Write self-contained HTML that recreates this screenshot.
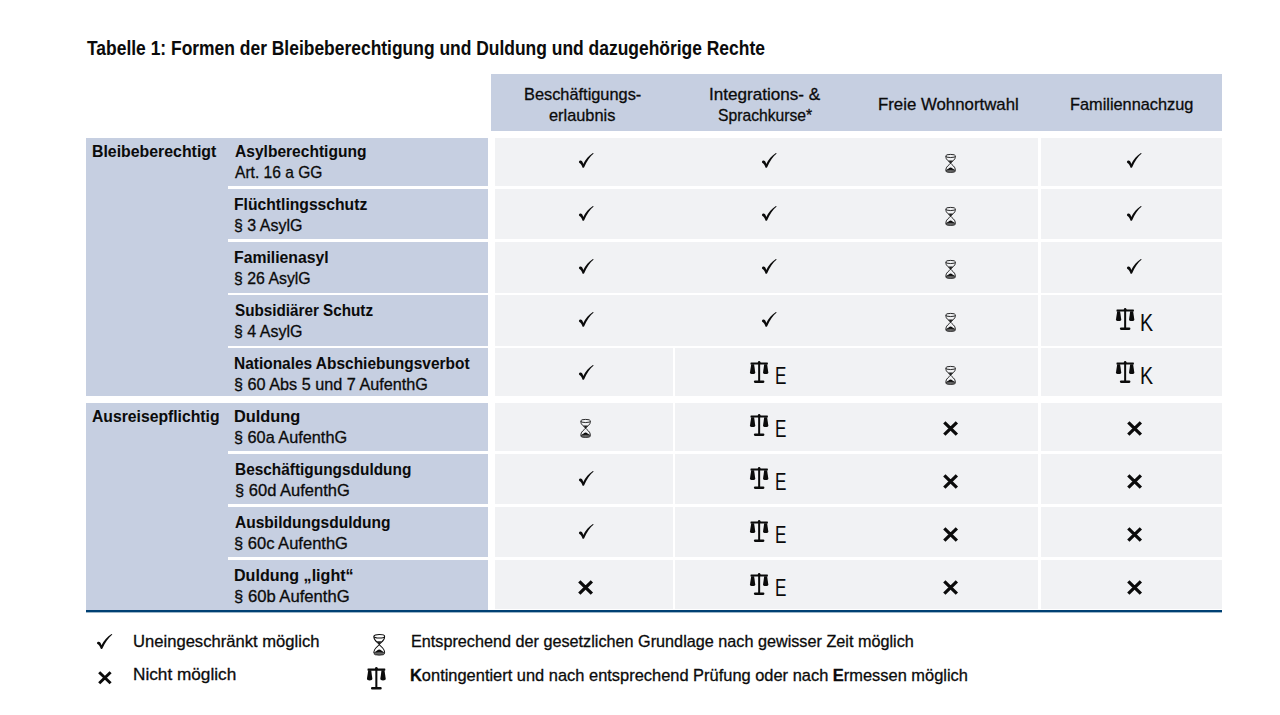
<!DOCTYPE html>
<html><head><meta charset="utf-8"><title>Tabelle 1</title>
<style>
html,body{margin:0;padding:0;background:#fff;}
body{width:1280px;height:715px;position:relative;overflow:hidden;font-family:"Liberation Sans",sans-serif;color:#0b0b0b;}
.r{position:absolute;}
.t{position:absolute;white-space:nowrap;-webkit-text-stroke:0.3px #0b0b0b;}
.b{-webkit-text-stroke:0.05px #0b0b0b;}
.c{text-align:center;}
.i{position:absolute;overflow:visible;}
</style></head><body>
<div class="t b" style="left:86.83px;top:37.64px;font-size:20.5px;line-height:20.5px;font-weight:bold;transform:scaleX(0.8507);transform-origin:0 0;">Tabelle 1: Formen der Bleibeberechtigung und Duldung und dazugehörige Rechte</div>
<div class="r" style="left:491.00px;top:73.70px;width:731.00px;height:57.00px;background:#c6cfe1"></div>
<div class="t" style="left:523.69px;top:85.61px;font-size:17.0px;line-height:17.0px;transform:scaleX(0.962);transform-origin:0 0;">Beschäftigungs-</div>
<div class="t" style="left:549.35px;top:106.61px;font-size:17.0px;line-height:17.0px;transform:scaleX(0.9622);transform-origin:0 0;">erlaubnis</div>
<div class="t" style="left:709.36px;top:85.61px;font-size:17.0px;line-height:17.0px;transform:scaleX(1.0055);transform-origin:0 0;">Integrations- &amp;</div>
<div class="t" style="left:718.32px;top:106.61px;font-size:17.0px;line-height:17.0px;transform:scaleX(0.9225);transform-origin:0 0;">Sprachkurse*</div>
<div class="t" style="left:878.46px;top:96.21px;font-size:17.0px;line-height:17.0px;transform:scaleX(0.9885);transform-origin:0 0;">Freie Wohnortwahl</div>
<div class="t" style="left:1069.59px;top:96.11px;font-size:17.0px;line-height:17.0px;transform:scaleX(0.9598);transform-origin:0 0;">Familiennachzug</div>
<div class="r" style="left:86.10px;top:137.60px;width:142.30px;height:258.20px;background:#c6cfe1"></div>
<div class="r" style="left:86.10px;top:402.70px;width:142.30px;height:206.90px;background:#c6cfe1"></div>
<div class="r" style="left:228.40px;top:137.60px;width:259.60px;height:48.60px;background:#c6cfe1"></div>
<div class="r" style="left:494.80px;top:137.60px;width:543.40px;height:48.60px;background:#f1f2f4"></div>
<div class="r" style="left:1040.80px;top:137.60px;width:181.20px;height:48.60px;background:#f1f2f4"></div>
<div class="r" style="left:228.40px;top:188.80px;width:259.60px;height:50.60px;background:#c6cfe1"></div>
<div class="r" style="left:494.80px;top:188.80px;width:543.40px;height:50.60px;background:#f1f2f4"></div>
<div class="r" style="left:1040.80px;top:188.80px;width:181.20px;height:50.60px;background:#f1f2f4"></div>
<div class="r" style="left:228.40px;top:242.00px;width:259.60px;height:50.60px;background:#c6cfe1"></div>
<div class="r" style="left:494.80px;top:242.00px;width:543.40px;height:50.60px;background:#f1f2f4"></div>
<div class="r" style="left:1040.80px;top:242.00px;width:181.20px;height:50.60px;background:#f1f2f4"></div>
<div class="r" style="left:228.40px;top:295.20px;width:259.60px;height:50.60px;background:#c6cfe1"></div>
<div class="r" style="left:494.80px;top:295.20px;width:543.40px;height:50.60px;background:#f1f2f4"></div>
<div class="r" style="left:1040.80px;top:295.20px;width:181.20px;height:50.60px;background:#f1f2f4"></div>
<div class="r" style="left:228.40px;top:348.40px;width:259.60px;height:47.40px;background:#c6cfe1"></div>
<div class="r" style="left:494.80px;top:348.40px;width:177.80px;height:47.40px;background:#f1f2f4"></div>
<div class="r" style="left:675.20px;top:348.40px;width:363.00px;height:47.40px;background:#f1f2f4"></div>
<div class="r" style="left:1040.80px;top:348.40px;width:181.20px;height:47.40px;background:#f1f2f4"></div>
<div class="r" style="left:228.40px;top:402.70px;width:259.60px;height:48.20px;background:#c6cfe1"></div>
<div class="r" style="left:494.80px;top:402.70px;width:177.80px;height:48.20px;background:#f1f2f4"></div>
<div class="r" style="left:675.20px;top:402.70px;width:363.00px;height:48.20px;background:#f1f2f4"></div>
<div class="r" style="left:1040.80px;top:402.70px;width:181.20px;height:48.20px;background:#f1f2f4"></div>
<div class="r" style="left:228.40px;top:453.50px;width:259.60px;height:50.60px;background:#c6cfe1"></div>
<div class="r" style="left:494.80px;top:453.50px;width:177.80px;height:50.60px;background:#f1f2f4"></div>
<div class="r" style="left:675.20px;top:453.50px;width:363.00px;height:50.60px;background:#f1f2f4"></div>
<div class="r" style="left:1040.80px;top:453.50px;width:181.20px;height:50.60px;background:#f1f2f4"></div>
<div class="r" style="left:228.40px;top:506.70px;width:259.60px;height:50.60px;background:#c6cfe1"></div>
<div class="r" style="left:494.80px;top:506.70px;width:177.80px;height:50.60px;background:#f1f2f4"></div>
<div class="r" style="left:675.20px;top:506.70px;width:363.00px;height:50.60px;background:#f1f2f4"></div>
<div class="r" style="left:1040.80px;top:506.70px;width:181.20px;height:50.60px;background:#f1f2f4"></div>
<div class="r" style="left:228.40px;top:559.90px;width:259.60px;height:49.70px;background:#c6cfe1"></div>
<div class="r" style="left:494.80px;top:559.90px;width:177.80px;height:48.70px;background:#f1f2f4"></div>
<div class="r" style="left:675.20px;top:559.90px;width:363.00px;height:48.70px;background:#f1f2f4"></div>
<div class="r" style="left:1040.80px;top:559.90px;width:181.20px;height:48.70px;background:#f1f2f4"></div>
<div class="r" style="left:86.10px;top:610.00px;width:1135.90px;height:2.00px;background:#004073"></div>
<div class="r" style="left:86.10px;top:612.00px;width:1135.90px;height:1.00px;background:#9db6c8"></div>
<div class="t b" style="left:91.89px;top:142.52px;font-size:17.4px;line-height:17.4px;font-weight:bold;transform:scaleX(0.9121);transform-origin:0 0;">Bleibeberechtigt</div>
<div class="t b" style="left:92.13px;top:407.52px;font-size:17.4px;line-height:17.4px;font-weight:bold;transform:scaleX(0.904);transform-origin:0 0;">Ausreisepflichtig</div>
<div class="t b" style="left:234.53px;top:142.52px;font-size:17.4px;line-height:17.4px;font-weight:bold;transform:scaleX(0.8951);transform-origin:0 0;">Asylberechtigung</div>
<div class="t" style="left:235.00px;top:163.96px;font-size:17.0px;line-height:17.0px;transform:scaleX(0.9153);transform-origin:0 0;">Art. 16 a GG</div>
<svg class="i" style="left:578.65px;top:152.80px;width:15.50px;height:15.00px" viewBox="0 0 15.6 15" preserveAspectRatio="none"><path d="M-0.1,9.0 C0.2,8.0 0.9,7.6 1.6,7.6 C2.6,7.6 3.3,8.4 3.9,9.8 L4.3,11.0 C6.4,6.8 9.9,2.4 14.0,0 L14.8,0.6 C11.0,3.6 7.8,8.6 5.2,14.2 C4.8,14.8 3.9,14.9 3.5,14.4 C2.9,12.4 1.9,10.6 0.5,9.9 C0.1,9.7 -0.1,9.4 -0.1,9.0 Z" fill="#0b0b0b"/></svg>
<svg class="i" style="left:761.55px;top:152.80px;width:15.50px;height:15.00px" viewBox="0 0 15.6 15" preserveAspectRatio="none"><path d="M-0.1,9.0 C0.2,8.0 0.9,7.6 1.6,7.6 C2.6,7.6 3.3,8.4 3.9,9.8 L4.3,11.0 C6.4,6.8 9.9,2.4 14.0,0 L14.8,0.6 C11.0,3.6 7.8,8.6 5.2,14.2 C4.8,14.8 3.9,14.9 3.5,14.4 C2.9,12.4 1.9,10.6 0.5,9.9 C0.1,9.7 -0.1,9.4 -0.1,9.0 Z" fill="#0b0b0b"/></svg>
<svg class="i" style="left:945.20px;top:153.75px;width:11.20px;height:18.80px" viewBox="0 0 12 19" preserveAspectRatio="none"><g fill="none" stroke="#0b0b0b" stroke-width="0.9"><ellipse cx="6" cy="2" rx="5.2" ry="1.6"/><path d="M0.8,2.2 C0.6,6.2 5.0,7.6 6,9.3 C7.0,11.0 11.4,12.4 11.2,16.8 M11.2,2.2 C11.4,6.2 7.0,7.6 6,9.3 C5.0,11.0 0.6,12.4 0.8,16.8"/></g><path d="M3.5,6.5 L8.5,6.5 L6,9.3 Z" fill="#0b0b0b" opacity="0.9"/><path d="M1.6,16.6 C3,15 4.8,13.9 6,13.7 C7.2,13.9 9,15 10.4,16.6 Z" fill="#0b0b0b"/><ellipse cx="6" cy="17.2" rx="5.2" ry="1.5" fill="#666" stroke="#0b0b0b" stroke-width="0.7"/></svg>
<svg class="i" style="left:1127.25px;top:152.80px;width:15.50px;height:15.00px" viewBox="0 0 15.6 15" preserveAspectRatio="none"><path d="M-0.1,9.0 C0.2,8.0 0.9,7.6 1.6,7.6 C2.6,7.6 3.3,8.4 3.9,9.8 L4.3,11.0 C6.4,6.8 9.9,2.4 14.0,0 L14.8,0.6 C11.0,3.6 7.8,8.6 5.2,14.2 C4.8,14.8 3.9,14.9 3.5,14.4 C2.9,12.4 1.9,10.6 0.5,9.9 C0.1,9.7 -0.1,9.4 -0.1,9.0 Z" fill="#0b0b0b"/></svg>
<div class="t b" style="left:234.20px;top:195.52px;font-size:17.4px;line-height:17.4px;font-weight:bold;transform:scaleX(0.9015);transform-origin:0 0;">Flüchtlingsschutz</div>
<div class="t" style="left:234.34px;top:216.96px;font-size:17.0px;line-height:17.0px;transform:scaleX(0.9406);transform-origin:0 0;">§ 3 AsylG</div>
<svg class="i" style="left:578.65px;top:205.80px;width:15.50px;height:15.00px" viewBox="0 0 15.6 15" preserveAspectRatio="none"><path d="M-0.1,9.0 C0.2,8.0 0.9,7.6 1.6,7.6 C2.6,7.6 3.3,8.4 3.9,9.8 L4.3,11.0 C6.4,6.8 9.9,2.4 14.0,0 L14.8,0.6 C11.0,3.6 7.8,8.6 5.2,14.2 C4.8,14.8 3.9,14.9 3.5,14.4 C2.9,12.4 1.9,10.6 0.5,9.9 C0.1,9.7 -0.1,9.4 -0.1,9.0 Z" fill="#0b0b0b"/></svg>
<svg class="i" style="left:761.55px;top:205.80px;width:15.50px;height:15.00px" viewBox="0 0 15.6 15" preserveAspectRatio="none"><path d="M-0.1,9.0 C0.2,8.0 0.9,7.6 1.6,7.6 C2.6,7.6 3.3,8.4 3.9,9.8 L4.3,11.0 C6.4,6.8 9.9,2.4 14.0,0 L14.8,0.6 C11.0,3.6 7.8,8.6 5.2,14.2 C4.8,14.8 3.9,14.9 3.5,14.4 C2.9,12.4 1.9,10.6 0.5,9.9 C0.1,9.7 -0.1,9.4 -0.1,9.0 Z" fill="#0b0b0b"/></svg>
<svg class="i" style="left:945.20px;top:206.75px;width:11.20px;height:18.80px" viewBox="0 0 12 19" preserveAspectRatio="none"><g fill="none" stroke="#0b0b0b" stroke-width="0.9"><ellipse cx="6" cy="2" rx="5.2" ry="1.6"/><path d="M0.8,2.2 C0.6,6.2 5.0,7.6 6,9.3 C7.0,11.0 11.4,12.4 11.2,16.8 M11.2,2.2 C11.4,6.2 7.0,7.6 6,9.3 C5.0,11.0 0.6,12.4 0.8,16.8"/></g><path d="M3.5,6.5 L8.5,6.5 L6,9.3 Z" fill="#0b0b0b" opacity="0.9"/><path d="M1.6,16.6 C3,15 4.8,13.9 6,13.7 C7.2,13.9 9,15 10.4,16.6 Z" fill="#0b0b0b"/><ellipse cx="6" cy="17.2" rx="5.2" ry="1.5" fill="#666" stroke="#0b0b0b" stroke-width="0.7"/></svg>
<svg class="i" style="left:1127.25px;top:205.80px;width:15.50px;height:15.00px" viewBox="0 0 15.6 15" preserveAspectRatio="none"><path d="M-0.1,9.0 C0.2,8.0 0.9,7.6 1.6,7.6 C2.6,7.6 3.3,8.4 3.9,9.8 L4.3,11.0 C6.4,6.8 9.9,2.4 14.0,0 L14.8,0.6 C11.0,3.6 7.8,8.6 5.2,14.2 C4.8,14.8 3.9,14.9 3.5,14.4 C2.9,12.4 1.9,10.6 0.5,9.9 C0.1,9.7 -0.1,9.4 -0.1,9.0 Z" fill="#0b0b0b"/></svg>
<div class="t b" style="left:234.20px;top:248.52px;font-size:17.4px;line-height:17.4px;font-weight:bold;transform:scaleX(0.9062);transform-origin:0 0;">Familienasyl</div>
<div class="t" style="left:234.35px;top:269.96px;font-size:17.0px;line-height:17.0px;transform:scaleX(0.9324);transform-origin:0 0;">§ 26 AsylG</div>
<svg class="i" style="left:578.65px;top:258.80px;width:15.50px;height:15.00px" viewBox="0 0 15.6 15" preserveAspectRatio="none"><path d="M-0.1,9.0 C0.2,8.0 0.9,7.6 1.6,7.6 C2.6,7.6 3.3,8.4 3.9,9.8 L4.3,11.0 C6.4,6.8 9.9,2.4 14.0,0 L14.8,0.6 C11.0,3.6 7.8,8.6 5.2,14.2 C4.8,14.8 3.9,14.9 3.5,14.4 C2.9,12.4 1.9,10.6 0.5,9.9 C0.1,9.7 -0.1,9.4 -0.1,9.0 Z" fill="#0b0b0b"/></svg>
<svg class="i" style="left:761.55px;top:258.80px;width:15.50px;height:15.00px" viewBox="0 0 15.6 15" preserveAspectRatio="none"><path d="M-0.1,9.0 C0.2,8.0 0.9,7.6 1.6,7.6 C2.6,7.6 3.3,8.4 3.9,9.8 L4.3,11.0 C6.4,6.8 9.9,2.4 14.0,0 L14.8,0.6 C11.0,3.6 7.8,8.6 5.2,14.2 C4.8,14.8 3.9,14.9 3.5,14.4 C2.9,12.4 1.9,10.6 0.5,9.9 C0.1,9.7 -0.1,9.4 -0.1,9.0 Z" fill="#0b0b0b"/></svg>
<svg class="i" style="left:945.20px;top:259.75px;width:11.20px;height:18.80px" viewBox="0 0 12 19" preserveAspectRatio="none"><g fill="none" stroke="#0b0b0b" stroke-width="0.9"><ellipse cx="6" cy="2" rx="5.2" ry="1.6"/><path d="M0.8,2.2 C0.6,6.2 5.0,7.6 6,9.3 C7.0,11.0 11.4,12.4 11.2,16.8 M11.2,2.2 C11.4,6.2 7.0,7.6 6,9.3 C5.0,11.0 0.6,12.4 0.8,16.8"/></g><path d="M3.5,6.5 L8.5,6.5 L6,9.3 Z" fill="#0b0b0b" opacity="0.9"/><path d="M1.6,16.6 C3,15 4.8,13.9 6,13.7 C7.2,13.9 9,15 10.4,16.6 Z" fill="#0b0b0b"/><ellipse cx="6" cy="17.2" rx="5.2" ry="1.5" fill="#666" stroke="#0b0b0b" stroke-width="0.7"/></svg>
<svg class="i" style="left:1127.25px;top:258.80px;width:15.50px;height:15.00px" viewBox="0 0 15.6 15" preserveAspectRatio="none"><path d="M-0.1,9.0 C0.2,8.0 0.9,7.6 1.6,7.6 C2.6,7.6 3.3,8.4 3.9,9.8 L4.3,11.0 C6.4,6.8 9.9,2.4 14.0,0 L14.8,0.6 C11.0,3.6 7.8,8.6 5.2,14.2 C4.8,14.8 3.9,14.9 3.5,14.4 C2.9,12.4 1.9,10.6 0.5,9.9 C0.1,9.7 -0.1,9.4 -0.1,9.0 Z" fill="#0b0b0b"/></svg>
<div class="t b" style="left:234.84px;top:301.52px;font-size:17.4px;line-height:17.4px;font-weight:bold;transform:scaleX(0.8765);transform-origin:0 0;">Subsidiärer Schutz</div>
<div class="t" style="left:234.34px;top:322.96px;font-size:17.0px;line-height:17.0px;transform:scaleX(0.9406);transform-origin:0 0;">§ 4 AsylG</div>
<svg class="i" style="left:578.65px;top:311.80px;width:15.50px;height:15.00px" viewBox="0 0 15.6 15" preserveAspectRatio="none"><path d="M-0.1,9.0 C0.2,8.0 0.9,7.6 1.6,7.6 C2.6,7.6 3.3,8.4 3.9,9.8 L4.3,11.0 C6.4,6.8 9.9,2.4 14.0,0 L14.8,0.6 C11.0,3.6 7.8,8.6 5.2,14.2 C4.8,14.8 3.9,14.9 3.5,14.4 C2.9,12.4 1.9,10.6 0.5,9.9 C0.1,9.7 -0.1,9.4 -0.1,9.0 Z" fill="#0b0b0b"/></svg>
<svg class="i" style="left:761.55px;top:311.80px;width:15.50px;height:15.00px" viewBox="0 0 15.6 15" preserveAspectRatio="none"><path d="M-0.1,9.0 C0.2,8.0 0.9,7.6 1.6,7.6 C2.6,7.6 3.3,8.4 3.9,9.8 L4.3,11.0 C6.4,6.8 9.9,2.4 14.0,0 L14.8,0.6 C11.0,3.6 7.8,8.6 5.2,14.2 C4.8,14.8 3.9,14.9 3.5,14.4 C2.9,12.4 1.9,10.6 0.5,9.9 C0.1,9.7 -0.1,9.4 -0.1,9.0 Z" fill="#0b0b0b"/></svg>
<svg class="i" style="left:945.20px;top:312.75px;width:11.20px;height:18.80px" viewBox="0 0 12 19" preserveAspectRatio="none"><g fill="none" stroke="#0b0b0b" stroke-width="0.9"><ellipse cx="6" cy="2" rx="5.2" ry="1.6"/><path d="M0.8,2.2 C0.6,6.2 5.0,7.6 6,9.3 C7.0,11.0 11.4,12.4 11.2,16.8 M11.2,2.2 C11.4,6.2 7.0,7.6 6,9.3 C5.0,11.0 0.6,12.4 0.8,16.8"/></g><path d="M3.5,6.5 L8.5,6.5 L6,9.3 Z" fill="#0b0b0b" opacity="0.9"/><path d="M1.6,16.6 C3,15 4.8,13.9 6,13.7 C7.2,13.9 9,15 10.4,16.6 Z" fill="#0b0b0b"/><ellipse cx="6" cy="17.2" rx="5.2" ry="1.5" fill="#666" stroke="#0b0b0b" stroke-width="0.7"/></svg>
<svg class="i" style="left:1116.10px;top:308.35px;width:18.40px;height:21.90px" viewBox="0 0 18.4 21.7" preserveAspectRatio="none"><g fill="#0b0b0b"><circle cx="9.15" cy="1.3" r="1.25"/><rect x="0.5" y="1.4" width="17.4" height="2.1" rx="0.5"/><rect x="8.15" y="1" width="2.0" height="20"/><rect x="3.9" y="19.3" width="10.5" height="2.4" rx="1.1"/><path d="M1.2,3.2 L4.1,3.2 L5.2,11.1 C5.3,12.5 4.2,12.9 2.6,12.9 C1.0,12.9 -0.1,12.5 0,11.1 Z"/><path d="M14.2,3.2 L17.1,3.2 L18.3,11.1 C18.4,12.5 17.3,12.9 15.7,12.9 C14.1,12.9 13.0,12.5 13.1,11.1 Z"/></g></svg>
<div class="t" style="left:1139.83px;top:311.88px;font-size:23.0px;line-height:23.0px;transform:scaleX(0.8543);transform-origin:0 0;-webkit-text-stroke:0;">K</div>
<div class="t b" style="left:234.32px;top:354.52px;font-size:17.4px;line-height:17.4px;font-weight:bold;transform:scaleX(0.8886);transform-origin:0 0;">Nationales Abschiebungsverbot</div>
<div class="t" style="left:234.43px;top:375.96px;font-size:17.0px;line-height:17.0px;transform:scaleX(0.9545);transform-origin:0 0;">§ 60 Abs 5 und 7 AufenthG</div>
<svg class="i" style="left:578.65px;top:364.80px;width:15.50px;height:15.00px" viewBox="0 0 15.6 15" preserveAspectRatio="none"><path d="M-0.1,9.0 C0.2,8.0 0.9,7.6 1.6,7.6 C2.6,7.6 3.3,8.4 3.9,9.8 L4.3,11.0 C6.4,6.8 9.9,2.4 14.0,0 L14.8,0.6 C11.0,3.6 7.8,8.6 5.2,14.2 C4.8,14.8 3.9,14.9 3.5,14.4 C2.9,12.4 1.9,10.6 0.5,9.9 C0.1,9.7 -0.1,9.4 -0.1,9.0 Z" fill="#0b0b0b"/></svg>
<svg class="i" style="left:750.40px;top:361.35px;width:18.40px;height:21.90px" viewBox="0 0 18.4 21.7" preserveAspectRatio="none"><g fill="#0b0b0b"><circle cx="9.15" cy="1.3" r="1.25"/><rect x="0.5" y="1.4" width="17.4" height="2.1" rx="0.5"/><rect x="8.15" y="1" width="2.0" height="20"/><rect x="3.9" y="19.3" width="10.5" height="2.4" rx="1.1"/><path d="M1.2,3.2 L4.1,3.2 L5.2,11.1 C5.3,12.5 4.2,12.9 2.6,12.9 C1.0,12.9 -0.1,12.5 0,11.1 Z"/><path d="M14.2,3.2 L17.1,3.2 L18.3,11.1 C18.4,12.5 17.3,12.9 15.7,12.9 C14.1,12.9 13.0,12.5 13.1,11.1 Z"/></g></svg>
<div class="t" style="left:775.23px;top:364.88px;font-size:23.0px;line-height:23.0px;transform:scaleX(0.7431);transform-origin:0 0;-webkit-text-stroke:0;">E</div>
<svg class="i" style="left:945.20px;top:365.75px;width:11.20px;height:18.80px" viewBox="0 0 12 19" preserveAspectRatio="none"><g fill="none" stroke="#0b0b0b" stroke-width="0.9"><ellipse cx="6" cy="2" rx="5.2" ry="1.6"/><path d="M0.8,2.2 C0.6,6.2 5.0,7.6 6,9.3 C7.0,11.0 11.4,12.4 11.2,16.8 M11.2,2.2 C11.4,6.2 7.0,7.6 6,9.3 C5.0,11.0 0.6,12.4 0.8,16.8"/></g><path d="M3.5,6.5 L8.5,6.5 L6,9.3 Z" fill="#0b0b0b" opacity="0.9"/><path d="M1.6,16.6 C3,15 4.8,13.9 6,13.7 C7.2,13.9 9,15 10.4,16.6 Z" fill="#0b0b0b"/><ellipse cx="6" cy="17.2" rx="5.2" ry="1.5" fill="#666" stroke="#0b0b0b" stroke-width="0.7"/></svg>
<svg class="i" style="left:1116.10px;top:361.35px;width:18.40px;height:21.90px" viewBox="0 0 18.4 21.7" preserveAspectRatio="none"><g fill="#0b0b0b"><circle cx="9.15" cy="1.3" r="1.25"/><rect x="0.5" y="1.4" width="17.4" height="2.1" rx="0.5"/><rect x="8.15" y="1" width="2.0" height="20"/><rect x="3.9" y="19.3" width="10.5" height="2.4" rx="1.1"/><path d="M1.2,3.2 L4.1,3.2 L5.2,11.1 C5.3,12.5 4.2,12.9 2.6,12.9 C1.0,12.9 -0.1,12.5 0,11.1 Z"/><path d="M14.2,3.2 L17.1,3.2 L18.3,11.1 C18.4,12.5 17.3,12.9 15.7,12.9 C14.1,12.9 13.0,12.5 13.1,11.1 Z"/></g></svg>
<div class="t" style="left:1139.83px;top:364.88px;font-size:23.0px;line-height:23.0px;transform:scaleX(0.8543);transform-origin:0 0;-webkit-text-stroke:0;">K</div>
<div class="t b" style="left:234.26px;top:407.52px;font-size:17.4px;line-height:17.4px;font-weight:bold;transform:scaleX(0.9392);transform-origin:0 0;">Duldung</div>
<div class="t" style="left:234.42px;top:428.96px;font-size:17.0px;line-height:17.0px;transform:scaleX(0.9571);transform-origin:0 0;">§ 60a AufenthG</div>
<svg class="i" style="left:580.20px;top:418.75px;width:11.20px;height:18.80px" viewBox="0 0 12 19" preserveAspectRatio="none"><g fill="none" stroke="#0b0b0b" stroke-width="0.9"><ellipse cx="6" cy="2" rx="5.2" ry="1.6"/><path d="M0.8,2.2 C0.6,6.2 5.0,7.6 6,9.3 C7.0,11.0 11.4,12.4 11.2,16.8 M11.2,2.2 C11.4,6.2 7.0,7.6 6,9.3 C5.0,11.0 0.6,12.4 0.8,16.8"/></g><path d="M3.5,6.5 L8.5,6.5 L6,9.3 Z" fill="#0b0b0b" opacity="0.9"/><path d="M1.6,16.6 C3,15 4.8,13.9 6,13.7 C7.2,13.9 9,15 10.4,16.6 Z" fill="#0b0b0b"/><ellipse cx="6" cy="17.2" rx="5.2" ry="1.5" fill="#666" stroke="#0b0b0b" stroke-width="0.7"/></svg>
<svg class="i" style="left:750.40px;top:414.35px;width:18.40px;height:21.90px" viewBox="0 0 18.4 21.7" preserveAspectRatio="none"><g fill="#0b0b0b"><circle cx="9.15" cy="1.3" r="1.25"/><rect x="0.5" y="1.4" width="17.4" height="2.1" rx="0.5"/><rect x="8.15" y="1" width="2.0" height="20"/><rect x="3.9" y="19.3" width="10.5" height="2.4" rx="1.1"/><path d="M1.2,3.2 L4.1,3.2 L5.2,11.1 C5.3,12.5 4.2,12.9 2.6,12.9 C1.0,12.9 -0.1,12.5 0,11.1 Z"/><path d="M14.2,3.2 L17.1,3.2 L18.3,11.1 C18.4,12.5 17.3,12.9 15.7,12.9 C14.1,12.9 13.0,12.5 13.1,11.1 Z"/></g></svg>
<div class="t" style="left:775.23px;top:417.88px;font-size:23.0px;line-height:23.0px;transform:scaleX(0.7431);transform-origin:0 0;-webkit-text-stroke:0;">E</div>
<svg class="i" style="left:943.20px;top:421.15px;width:15.20px;height:15.00px" viewBox="0 0 15 15" preserveAspectRatio="none"><path d="M1.3,1.3 L13.7,13.7 M13.7,1.3 L1.3,13.7" stroke="#0b0b0b" stroke-width="3.2" stroke-linecap="butt" fill="none"/></svg>
<svg class="i" style="left:1126.80px;top:421.15px;width:15.20px;height:15.00px" viewBox="0 0 15 15" preserveAspectRatio="none"><path d="M1.3,1.3 L13.7,13.7 M13.7,1.3 L1.3,13.7" stroke="#0b0b0b" stroke-width="3.2" stroke-linecap="butt" fill="none"/></svg>
<div class="t b" style="left:234.72px;top:460.52px;font-size:17.4px;line-height:17.4px;font-weight:bold;transform:scaleX(0.886);transform-origin:0 0;">Beschäftigungsduldung</div>
<div class="t" style="left:234.81px;top:481.96px;font-size:17.0px;line-height:17.0px;transform:scaleX(0.9718);transform-origin:0 0;">§ 60d AufenthG</div>
<svg class="i" style="left:578.65px;top:470.80px;width:15.50px;height:15.00px" viewBox="0 0 15.6 15" preserveAspectRatio="none"><path d="M-0.1,9.0 C0.2,8.0 0.9,7.6 1.6,7.6 C2.6,7.6 3.3,8.4 3.9,9.8 L4.3,11.0 C6.4,6.8 9.9,2.4 14.0,0 L14.8,0.6 C11.0,3.6 7.8,8.6 5.2,14.2 C4.8,14.8 3.9,14.9 3.5,14.4 C2.9,12.4 1.9,10.6 0.5,9.9 C0.1,9.7 -0.1,9.4 -0.1,9.0 Z" fill="#0b0b0b"/></svg>
<svg class="i" style="left:750.40px;top:467.35px;width:18.40px;height:21.90px" viewBox="0 0 18.4 21.7" preserveAspectRatio="none"><g fill="#0b0b0b"><circle cx="9.15" cy="1.3" r="1.25"/><rect x="0.5" y="1.4" width="17.4" height="2.1" rx="0.5"/><rect x="8.15" y="1" width="2.0" height="20"/><rect x="3.9" y="19.3" width="10.5" height="2.4" rx="1.1"/><path d="M1.2,3.2 L4.1,3.2 L5.2,11.1 C5.3,12.5 4.2,12.9 2.6,12.9 C1.0,12.9 -0.1,12.5 0,11.1 Z"/><path d="M14.2,3.2 L17.1,3.2 L18.3,11.1 C18.4,12.5 17.3,12.9 15.7,12.9 C14.1,12.9 13.0,12.5 13.1,11.1 Z"/></g></svg>
<div class="t" style="left:775.23px;top:470.88px;font-size:23.0px;line-height:23.0px;transform:scaleX(0.7431);transform-origin:0 0;-webkit-text-stroke:0;">E</div>
<svg class="i" style="left:943.20px;top:474.15px;width:15.20px;height:15.00px" viewBox="0 0 15 15" preserveAspectRatio="none"><path d="M1.3,1.3 L13.7,13.7 M13.7,1.3 L1.3,13.7" stroke="#0b0b0b" stroke-width="3.2" stroke-linecap="butt" fill="none"/></svg>
<svg class="i" style="left:1126.80px;top:474.15px;width:15.20px;height:15.00px" viewBox="0 0 15 15" preserveAspectRatio="none"><path d="M1.3,1.3 L13.7,13.7 M13.7,1.3 L1.3,13.7" stroke="#0b0b0b" stroke-width="3.2" stroke-linecap="butt" fill="none"/></svg>
<div class="t b" style="left:234.53px;top:513.52px;font-size:17.4px;line-height:17.4px;font-weight:bold;transform:scaleX(0.894);transform-origin:0 0;">Ausbildungsduldung</div>
<div class="t" style="left:234.01px;top:534.96px;font-size:17.0px;line-height:17.0px;transform:scaleX(0.9724);transform-origin:0 0;">§ 60c AufenthG</div>
<svg class="i" style="left:578.65px;top:523.80px;width:15.50px;height:15.00px" viewBox="0 0 15.6 15" preserveAspectRatio="none"><path d="M-0.1,9.0 C0.2,8.0 0.9,7.6 1.6,7.6 C2.6,7.6 3.3,8.4 3.9,9.8 L4.3,11.0 C6.4,6.8 9.9,2.4 14.0,0 L14.8,0.6 C11.0,3.6 7.8,8.6 5.2,14.2 C4.8,14.8 3.9,14.9 3.5,14.4 C2.9,12.4 1.9,10.6 0.5,9.9 C0.1,9.7 -0.1,9.4 -0.1,9.0 Z" fill="#0b0b0b"/></svg>
<svg class="i" style="left:750.40px;top:520.35px;width:18.40px;height:21.90px" viewBox="0 0 18.4 21.7" preserveAspectRatio="none"><g fill="#0b0b0b"><circle cx="9.15" cy="1.3" r="1.25"/><rect x="0.5" y="1.4" width="17.4" height="2.1" rx="0.5"/><rect x="8.15" y="1" width="2.0" height="20"/><rect x="3.9" y="19.3" width="10.5" height="2.4" rx="1.1"/><path d="M1.2,3.2 L4.1,3.2 L5.2,11.1 C5.3,12.5 4.2,12.9 2.6,12.9 C1.0,12.9 -0.1,12.5 0,11.1 Z"/><path d="M14.2,3.2 L17.1,3.2 L18.3,11.1 C18.4,12.5 17.3,12.9 15.7,12.9 C14.1,12.9 13.0,12.5 13.1,11.1 Z"/></g></svg>
<div class="t" style="left:775.23px;top:523.88px;font-size:23.0px;line-height:23.0px;transform:scaleX(0.7431);transform-origin:0 0;-webkit-text-stroke:0;">E</div>
<svg class="i" style="left:943.20px;top:527.15px;width:15.20px;height:15.00px" viewBox="0 0 15 15" preserveAspectRatio="none"><path d="M1.3,1.3 L13.7,13.7 M13.7,1.3 L1.3,13.7" stroke="#0b0b0b" stroke-width="3.2" stroke-linecap="butt" fill="none"/></svg>
<svg class="i" style="left:1126.80px;top:527.15px;width:15.20px;height:15.00px" viewBox="0 0 15 15" preserveAspectRatio="none"><path d="M1.3,1.3 L13.7,13.7 M13.7,1.3 L1.3,13.7" stroke="#0b0b0b" stroke-width="3.2" stroke-linecap="butt" fill="none"/></svg>
<div class="t b" style="left:233.87px;top:566.52px;font-size:17.4px;line-height:17.4px;font-weight:bold;transform:scaleX(0.924);transform-origin:0 0;">Duldung „light“</div>
<div class="t" style="left:234.00px;top:587.96px;font-size:17.0px;line-height:17.0px;transform:scaleX(0.9787);transform-origin:0 0;">§ 60b AufenthG</div>
<svg class="i" style="left:578.20px;top:580.15px;width:15.20px;height:15.00px" viewBox="0 0 15 15" preserveAspectRatio="none"><path d="M1.3,1.3 L13.7,13.7 M13.7,1.3 L1.3,13.7" stroke="#0b0b0b" stroke-width="3.2" stroke-linecap="butt" fill="none"/></svg>
<svg class="i" style="left:750.40px;top:573.35px;width:18.40px;height:21.90px" viewBox="0 0 18.4 21.7" preserveAspectRatio="none"><g fill="#0b0b0b"><circle cx="9.15" cy="1.3" r="1.25"/><rect x="0.5" y="1.4" width="17.4" height="2.1" rx="0.5"/><rect x="8.15" y="1" width="2.0" height="20"/><rect x="3.9" y="19.3" width="10.5" height="2.4" rx="1.1"/><path d="M1.2,3.2 L4.1,3.2 L5.2,11.1 C5.3,12.5 4.2,12.9 2.6,12.9 C1.0,12.9 -0.1,12.5 0,11.1 Z"/><path d="M14.2,3.2 L17.1,3.2 L18.3,11.1 C18.4,12.5 17.3,12.9 15.7,12.9 C14.1,12.9 13.0,12.5 13.1,11.1 Z"/></g></svg>
<div class="t" style="left:775.23px;top:576.88px;font-size:23.0px;line-height:23.0px;transform:scaleX(0.7431);transform-origin:0 0;-webkit-text-stroke:0;">E</div>
<svg class="i" style="left:943.20px;top:580.15px;width:15.20px;height:15.00px" viewBox="0 0 15 15" preserveAspectRatio="none"><path d="M1.3,1.3 L13.7,13.7 M13.7,1.3 L1.3,13.7" stroke="#0b0b0b" stroke-width="3.2" stroke-linecap="butt" fill="none"/></svg>
<svg class="i" style="left:1126.80px;top:580.15px;width:15.20px;height:15.00px" viewBox="0 0 15 15" preserveAspectRatio="none"><path d="M1.3,1.3 L13.7,13.7 M13.7,1.3 L1.3,13.7" stroke="#0b0b0b" stroke-width="3.2" stroke-linecap="butt" fill="none"/></svg>
<svg class="i" style="left:97.20px;top:634.30px;width:16.20px;height:15.20px" viewBox="0 0 15.6 15" preserveAspectRatio="none"><path d="M-0.1,9.0 C0.2,8.0 0.9,7.6 1.6,7.6 C2.6,7.6 3.3,8.4 3.9,9.8 L4.3,11.0 C6.4,6.8 9.9,2.4 14.0,0 L14.8,0.6 C11.0,3.6 7.8,8.6 5.2,14.2 C4.8,14.8 3.9,14.9 3.5,14.4 C2.9,12.4 1.9,10.6 0.5,9.9 C0.1,9.7 -0.1,9.4 -0.1,9.0 Z" fill="#0b0b0b"/></svg>
<div class="t" style="left:132.87px;top:633.11px;font-size:17.0px;line-height:17.0px;transform:scaleX(0.9769);transform-origin:0 0;">Uneingeschränkt möglich</div>
<svg class="i" style="left:98.10px;top:670.80px;width:13.80px;height:13.40px" viewBox="0 0 15 15" preserveAspectRatio="none"><path d="M1.3,1.3 L13.7,13.7 M13.7,1.3 L1.3,13.7" stroke="#0b0b0b" stroke-width="3.2" stroke-linecap="butt" fill="none"/></svg>
<div class="t" style="left:132.82px;top:666.21px;font-size:17.0px;line-height:17.0px;transform:scaleX(1.0118);transform-origin:0 0;">Nicht möglich</div>
<svg class="i" style="left:373.25px;top:633.80px;width:12.50px;height:21.50px" viewBox="0 0 12 19" preserveAspectRatio="none"><g fill="none" stroke="#0b0b0b" stroke-width="0.9"><ellipse cx="6" cy="2" rx="5.2" ry="1.6"/><path d="M0.8,2.2 C0.6,6.2 5.0,7.6 6,9.3 C7.0,11.0 11.4,12.4 11.2,16.8 M11.2,2.2 C11.4,6.2 7.0,7.6 6,9.3 C5.0,11.0 0.6,12.4 0.8,16.8"/></g><path d="M3.5,6.5 L8.5,6.5 L6,9.3 Z" fill="#0b0b0b" opacity="0.9"/><path d="M1.6,16.6 C3,15 4.8,13.9 6,13.7 C7.2,13.9 9,15 10.4,16.6 Z" fill="#0b0b0b"/><ellipse cx="6" cy="17.2" rx="5.2" ry="1.5" fill="#666" stroke="#0b0b0b" stroke-width="0.7"/></svg>
<div class="t" style="left:410.50px;top:633.11px;font-size:17.0px;line-height:17.0px;transform:scaleX(0.9535);transform-origin:0 0;">Entsprechend der gesetzlichen Grundlage nach gewisser Zeit möglich</div>
<div class="t" style="left:410.49px;top:666.51px;font-size:17.0px;line-height:17.0px;transform:scaleX(0.9663);transform-origin:0 0;"><b>K</b>ontingentiert und nach entsprechend Prüfung oder nach <b>E</b>rmessen möglich</div>
<svg class="i" style="left:367.40px;top:666.50px;width:18.80px;height:22.60px" viewBox="0 0 18.4 21.7" preserveAspectRatio="none"><g fill="#0b0b0b"><circle cx="9.15" cy="1.3" r="1.25"/><rect x="0.5" y="1.4" width="17.4" height="2.1" rx="0.5"/><rect x="8.15" y="1" width="2.0" height="20"/><rect x="3.9" y="19.3" width="10.5" height="2.4" rx="1.1"/><path d="M1.2,3.2 L4.1,3.2 L5.2,11.1 C5.3,12.5 4.2,12.9 2.6,12.9 C1.0,12.9 -0.1,12.5 0,11.1 Z"/><path d="M14.2,3.2 L17.1,3.2 L18.3,11.1 C18.4,12.5 17.3,12.9 15.7,12.9 C14.1,12.9 13.0,12.5 13.1,11.1 Z"/></g></svg>
</body></html>
